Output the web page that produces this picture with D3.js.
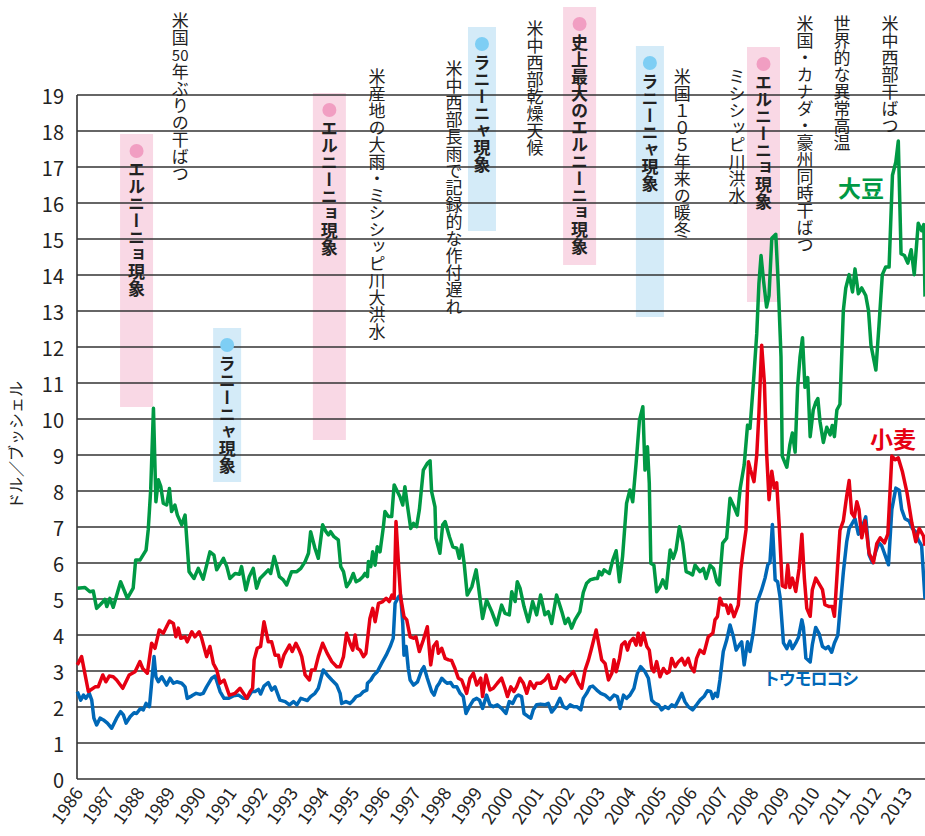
<!DOCTYPE html>
<html>
<head>
<meta charset="utf-8">
<script src="https://cdn.jsdelivr.net/npm/d3@7"></script>
<style>
body { margin: 0; background: #fff; }
text { font-family: "Noto Sans CJK JP", "Noto Sans", sans-serif; }
</style>
</head>
<body>
<script>

//Axis labels
const yearLabels = [1986, 1987, 1988, 1989, 1990, 1991, 1992, 1993, 1994, 1995, 1996, 1997, 1998, 1999,
	2000, 2001, 2002, 2003, 2004, 2005, 2006, 2007, 2008, 2009, 2010, 2011, 2012, 2013];
const priceTicks = [0, 1, 2, 3, 4, 5, 6, 7, 8, 9, 10, 11, 12, 13, 14, 15, 16, 17, 18, 19];

//Soybean (dollars per bushel)
const soyYears = [1986.01,1986.26,1986.42,1986.53,1986.64,1986.80,1986.91,1986.97,1987.07,1987.18,1987.42,1987.64,1987.83,1987.91,
	1988.05,1988.25,1988.32,1988.40,1988.49,1988.57,1988.65,1988.73,1988.81,1988.92,1989.01,1989.08,1989.19,1989.27,1989.41,1989.52,
	1989.65,1989.81,1989.95,1990.11,1990.33,1990.46,1990.55,1990.77,1990.88,1990.98,1991.15,1991.29,1991.36,1991.50,1991.61,1991.74,
	1991.85,1991.96,1992.12,1992.23,1992.31,1992.42,1992.50,1992.59,1992.72,1992.83,1992.99,1993.16,1993.29,1993.43,1993.54,1993.61,
	1993.75,1993.86,1994.00,1994.11,1994.19,1994.26,1994.37,1994.51,1994.59,1994.68,1994.78,1994.89,1995.00,1995.09,1995.20,1995.31,
	1995.38,1995.46,1995.49,1995.57,1995.63,1995.71,1995.78,1995.87,1995.98,1996.03,1996.14,1996.25,1996.33,1996.41,1996.52,1996.61,
	1996.68,1996.76,1996.87,1996.96,1997.06,1997.15,1997.28,1997.41,1997.50,1997.55,1997.66,1997.69,1997.82,1997.91,1997.99,1998.13,
	1998.24,1998.37,1998.45,1998.53,1998.61,1998.71,1998.86,1999.00,1999.07,1999.21,1999.34,1999.51,1999.67,1999.83,1999.94,2000.08,
	2000.16,2000.27,2000.34,2000.43,2000.56,2000.70,2000.84,2000.97,2001.10,2001.24,2001.35,2001.46,2001.62,2001.79,2001.90,2002.00,
	2002.11,2002.22,2002.38,2002.49,2002.60,2002.71,2002.87,2002.95,2003.01,2003.09,2003.17,2003.25,2003.34,2003.45,2003.56,2003.67,
	2003.77,2003.90,2004.01,2004.10,2004.21,2004.32,2004.43,2004.50,2004.58,2004.64,2004.69,2004.79,2004.88,2004.99,2005.08,2005.19,
	2005.32,2005.42,2005.51,2005.62,2005.73,2005.84,2005.97,2006.05,2006.13,2006.21,2006.29,2006.40,2006.49,2006.62,2006.73,2006.84,
	2006.92,2007.03,2007.16,2007.27,2007.40,2007.51,2007.60,2007.73,2007.84,2007.92,2008.03,2008.14,2008.21,2008.28,2008.36,2008.46,
	2008.54,2008.63,2008.76,2008.84,2008.93,2008.97,2009.12,2009.22,2009.30,2009.39,2009.47,2009.55,2009.63,2009.71,2009.80,2009.88,
	2009.98,2010.06,2010.13,2010.20,2010.31,2010.42,2010.53,2010.60,2010.67,2010.75,2010.85,2010.96,2011.04,2011.15,2011.26,2011.34,
	2011.45,2011.56,2011.69,2011.78,2011.86,2012.02,2012.12,2012.23,2012.34,2012.45,2012.56,2012.67,2012.75,2012.84,2012.95,2013.06,
	2013.17,2013.27,2013.40,2013.51,2013.58,2013.62];
const soyPrices = [5.30,5.32,5.20,5.22,4.74,4.88,4.99,4.79,5.02,4.77,5.48,5.02,5.30,6.08,
	6.08,6.36,6.92,8.03,10.30,7.70,8.31,8.12,7.66,7.61,8.07,7.43,7.61,7.33,7.06,7.33,
	5.76,5.57,5.85,5.55,6.31,6.22,5.81,6.13,5.90,5.57,5.71,5.69,5.90,5.25,5.62,5.85,
	5.30,5.57,5.71,5.81,5.71,6.18,5.94,5.62,5.53,5.39,5.76,5.76,5.85,6.04,6.27,6.87,
	6.41,6.13,7.06,6.87,6.78,6.87,6.73,6.64,5.90,5.76,5.34,5.48,5.71,5.48,5.53,5.62,
	5.71,5.62,6.04,5.90,6.31,5.94,6.45,6.31,7.01,7.43,7.29,7.29,8.17,8.03,7.84,7.61,
	8.12,7.61,6.96,7.10,7.01,7.47,8.58,8.77,8.84,7.98,7.56,6.69,6.27,7.06,7.15,6.73,
	6.45,6.41,6.13,6.50,5.99,5.11,5.34,5.81,5.39,4.46,4.97,4.65,4.28,4.83,4.60,4.56,
	5.20,4.93,5.48,5.30,4.79,4.37,4.93,4.56,5.11,4.56,4.65,4.32,5.11,4.65,4.32,4.46,
	4.19,4.42,4.65,5.18,5.44,5.53,5.57,5.57,5.76,5.67,5.81,5.76,5.71,6.08,6.34,5.48,
	6.18,7.66,8.03,7.70,8.77,9.97,10.34,8.58,9.23,8.21,5.99,5.94,5.20,5.34,5.53,5.30,
	6.36,6.13,6.36,7.01,6.55,5.76,5.71,5.67,5.94,5.85,5.76,5.85,5.57,5.94,5.85,5.48,
	5.39,6.55,6.69,7.80,7.56,7.33,8.07,8.72,9.83,9.74,10.99,12.37,13.75,14.54,13.85,13.11,
	13.43,15.02,15.13,13.75,11.73,8.97,8.66,9.29,9.61,9.08,10.88,11.73,12.26,10.88,11.15,9.51,
	10.25,10.46,10.57,9.93,9.35,9.77,9.56,9.82,9.51,10.25,10.41,13.01,13.64,14.01,13.53,14.17,
	13.48,13.64,13.43,13.01,12.05,11.36,12.58,14.01,14.22,14.22,16.77,17.14,17.72,14.59,14.54,14.33,
	14.70,14.01,15.44,15.23,15.40,13.40];

//Wheat (dollars per bushel)
const wheatYears = [1986.01,1986.15,1986.37,1986.59,1986.69,1986.84,1986.94,1987.05,1987.18,1987.29,1987.49,1987.70,1987.89,1988.05,
	1988.14,1988.29,1988.43,1988.54,1988.68,1988.81,1989.01,1989.14,1989.22,1989.30,1989.38,1989.52,1989.59,1989.74,1989.84,1989.98,
	1990.06,1990.22,1990.33,1990.44,1990.55,1990.66,1990.79,1990.96,1991.15,1991.31,1991.53,1991.64,1991.72,1991.77,1991.87,1991.98,
	1992.09,1992.23,1992.34,1992.45,1992.56,1992.63,1992.74,1992.92,1993.01,1993.13,1993.24,1993.32,1993.43,1993.57,1993.64,1993.75,
	1993.86,1994.00,1994.15,1994.30,1994.46,1994.57,1994.68,1994.78,1994.89,1994.98,1995.06,1995.13,1995.22,1995.33,1995.41,1995.54,
	1995.63,1995.71,1995.82,1995.96,1996.07,1996.17,1996.26,1996.33,1996.39,1996.47,1996.54,1996.65,1996.74,1996.85,1996.96,1997.04,
	1997.15,1997.28,1997.41,1997.52,1997.61,1997.72,1997.77,1997.88,1997.99,1998.10,1998.20,1998.31,1998.42,1998.53,1998.69,1998.80,
	1998.91,1999.02,1999.15,1999.21,1999.32,1999.45,1999.56,1999.69,1999.83,1999.94,2000.02,2000.13,2000.23,2000.32,2000.43,2000.54,
	2000.65,2000.76,2000.89,2000.97,2001.10,2001.24,2001.35,2001.46,2001.60,2001.73,2001.90,2002.00,2002.17,2002.33,2002.44,2002.55,
	2002.66,2002.76,2002.91,2003.01,2003.09,2003.20,2003.31,2003.42,2003.49,2003.56,2003.67,2003.74,2003.85,2003.93,2004.01,2004.12,
	2004.21,2004.28,2004.36,2004.45,2004.56,2004.64,2004.72,2004.79,2004.88,2004.99,2005.10,2005.21,2005.29,2005.37,2005.48,2005.59,
	2005.70,2005.80,2005.91,2005.99,2006.10,2006.18,2006.29,2006.42,2006.56,2006.71,2006.78,2006.86,2006.94,2007.03,2007.14,2007.22,
	2007.29,2007.40,2007.54,2007.62,2007.70,2007.79,2007.87,2007.94,2008.05,2008.14,2008.21,2008.30,2008.39,2008.46,2008.54,2008.63,
	2008.71,2008.79,2008.87,2008.97,2009.08,2009.15,2009.22,2009.30,2009.41,2009.52,2009.61,2009.69,2009.77,2009.88,2009.95,2010.06,
	2010.17,2010.28,2010.36,2010.50,2010.60,2010.67,2010.78,2010.85,2010.96,2011.07,2011.15,2011.23,2011.32,2011.40,2011.47,2011.56,
	2011.67,2011.80,2011.94,2012.05,2012.16,2012.30,2012.41,2012.54,2012.65,2012.75,2012.88,2013.03,2013.19,2013.32,2013.43,2013.57,
	2013.62];
const wheatPrices = [3.17,3.40,2.43,2.56,2.56,2.89,2.70,2.86,2.84,2.75,2.52,2.89,2.98,3.26,
	3.07,2.94,3.77,3.63,4.14,4.05,4.39,4.32,3.95,4.19,3.91,3.95,3.81,4.09,3.95,4.09,
	3.91,3.40,3.68,3.21,3.03,2.66,2.75,2.33,2.38,2.52,2.24,2.43,2.52,3.31,3.63,3.68,
	4.37,3.81,3.81,3.44,3.44,3.12,3.44,3.72,3.54,3.77,3.58,3.40,2.89,2.75,3.03,3.03,
	3.40,3.77,3.49,3.26,3.12,3.12,3.40,4.05,3.77,3.58,4.00,3.63,3.58,3.40,3.49,4.46,
	4.74,4.37,4.88,4.93,5.02,4.93,5.11,5.02,7.15,5.99,5.06,4.51,4.42,3.95,3.91,3.95,
	3.54,3.86,4.23,3.17,3.68,3.81,3.49,3.63,3.35,3.31,3.29,3.07,2.80,2.75,2.38,2.80,
	2.94,2.61,2.80,2.29,2.89,2.47,2.52,2.66,2.80,2.52,2.29,2.56,2.43,2.56,2.80,2.66,
	2.38,2.70,2.52,2.66,2.66,2.75,2.89,2.52,2.52,2.84,2.70,2.84,2.98,2.66,2.52,3.03,
	3.31,3.63,4.14,3.68,3.31,3.21,2.75,2.94,3.31,2.98,3.35,3.72,3.81,3.58,3.81,3.91,
	3.72,4.05,3.72,4.05,3.68,3.58,3.07,2.98,3.26,2.84,3.07,2.94,2.98,3.35,3.12,3.26,
	3.35,3.17,3.35,3.12,2.98,3.35,3.58,3.49,3.95,4.05,4.42,4.51,5.02,4.83,4.83,4.60,
	4.83,4.51,4.83,5.81,6.36,6.92,8.81,8.58,8.26,9.00,10.14,12.05,10.99,9.08,7.76,8.55,
	8.08,8.23,7.07,5.37,5.32,5.95,5.32,5.58,5.21,5.85,6.80,5.58,4.74,4.52,5.26,5.58,
	5.42,5.26,4.84,4.79,4.79,4.52,6.01,6.91,7.17,7.86,8.29,7.39,7.28,7.70,7.49,6.70,
	7.17,6.27,6.01,6.54,6.70,6.56,6.80,8.97,8.87,8.92,8.55,7.97,7.12,6.59,6.96,6.75,
	6.48];

//Corn (dollars per bushel)
const cornYears = [1986.01,1986.12,1986.21,1986.29,1986.40,1986.48,1986.55,1986.64,1986.75,1986.86,1986.99,1987.13,1987.29,1987.42,
	1987.51,1987.60,1987.73,1987.86,1987.94,1988.07,1988.16,1988.25,1988.36,1988.43,1988.51,1988.57,1988.65,1988.76,1988.92,1989.03,
	1989.14,1989.25,1989.41,1989.52,1989.59,1989.74,1989.88,1990.01,1990.11,1990.22,1990.39,1990.50,1990.66,1990.79,1990.93,1991.09,
	1991.26,1991.42,1991.55,1991.69,1991.80,1991.91,1991.98,1992.09,1992.23,1992.34,1992.45,1992.61,1992.78,1992.92,1993.05,1993.16,
	1993.29,1993.39,1993.50,1993.61,1993.75,1993.86,1994.02,1994.15,1994.30,1994.46,1994.57,1994.62,1994.76,1994.89,1995.00,1995.09,
	1995.22,1995.33,1995.44,1995.46,1995.57,1995.67,1995.78,1995.92,1996.07,1996.20,1996.30,1996.36,1996.47,1996.54,1996.61,1996.65,
	1996.72,1996.79,1996.85,1996.96,1997.09,1997.23,1997.30,1997.41,1997.55,1997.63,1997.72,1997.80,1997.88,1997.99,1998.06,1998.17,
	1998.26,1998.37,1998.48,1998.58,1998.67,1998.78,1998.91,1999.02,1999.11,1999.21,1999.34,1999.45,1999.56,1999.69,1999.83,1999.97,
	2000.08,2000.19,2000.30,2000.38,2000.48,2000.56,2000.70,2000.78,2000.86,2000.97,2001.10,2001.24,2001.35,2001.46,2001.60,2001.73,
	2001.84,2001.95,2002.06,2002.17,2002.28,2002.41,2002.49,2002.60,2002.71,2002.80,2002.93,2003.06,2003.20,2003.36,2003.49,2003.60,
	2003.69,2003.80,2003.90,2004.01,2004.14,2004.25,2004.36,2004.50,2004.61,2004.72,2004.83,2004.94,2005.04,2005.15,2005.26,2005.37,
	2005.48,2005.59,2005.70,2005.80,2005.91,2006.05,2006.18,2006.29,2006.42,2006.53,2006.64,2006.71,2006.79,2006.86,2006.94,2007.05,
	2007.16,2007.27,2007.38,2007.47,2007.57,2007.65,2007.73,2007.84,2007.92,2008.03,2008.14,2008.30,2008.41,2008.50,2008.57,2008.65,
	2008.74,2008.82,2008.90,2009.01,2009.12,2009.22,2009.30,2009.41,2009.50,2009.61,2009.66,2009.74,2009.88,2009.95,2010.06,2010.17,
	2010.28,2010.39,2010.47,2010.58,2010.67,2010.78,2010.85,2010.96,2011.07,2011.15,2011.23,2011.34,2011.45,2011.58,2011.69,2011.80,
	2011.91,2012.02,2012.12,2012.21,2012.32,2012.43,2012.54,2012.67,2012.78,2012.86,2012.97,2013.10,2013.21,2013.32,2013.40,2013.51,
	2013.62];
const cornPrices = [2.43,2.19,2.33,2.24,2.38,2.19,1.69,1.50,1.69,1.64,1.55,1.41,1.69,1.87,
	1.78,1.55,1.73,1.84,1.82,1.96,1.92,2.10,2.01,2.66,3.40,2.84,2.70,2.84,2.61,2.80,
	2.66,2.70,2.66,2.56,2.24,2.31,2.38,2.35,2.38,2.56,2.80,2.86,2.43,2.24,2.24,2.31,
	2.33,2.24,2.24,2.43,2.43,2.49,2.36,2.58,2.68,2.47,2.56,2.19,2.15,2.06,2.15,2.06,
	2.24,2.21,2.18,2.29,2.38,2.52,3.03,2.89,2.75,2.61,2.38,2.10,2.15,2.10,2.19,2.29,
	2.33,2.43,2.47,2.66,2.75,2.89,2.98,3.21,3.44,3.68,3.91,4.88,5.06,5.11,4.32,3.44,
	3.68,3.07,2.75,2.61,2.70,3.03,3.12,2.80,2.43,2.33,2.56,2.66,2.80,2.70,2.66,2.68,
	2.56,2.56,2.38,2.29,1.82,2.01,2.19,2.24,2.19,1.96,2.33,2.06,2.01,2.06,1.96,1.82,
	2.15,2.10,2.29,2.33,2.29,1.82,1.73,1.69,1.92,2.06,2.08,2.06,2.10,1.86,2.01,2.24,
	2.01,1.96,2.06,2.01,2.01,1.92,2.24,2.38,2.56,2.58,2.47,2.38,2.33,2.21,2.33,2.29,
	1.96,2.33,2.24,2.33,2.52,2.94,3.12,2.98,2.80,2.19,2.10,2.06,1.92,2.01,1.96,2.06,
	2.01,2.19,2.38,2.15,2.01,1.92,2.06,2.19,2.29,2.45,2.43,2.24,2.38,2.29,2.75,3.54,
	3.86,4.28,3.95,3.58,3.72,3.81,3.17,3.81,3.54,4.09,4.88,5.26,5.58,5.95,6.01,7.07,
	5.53,5.48,5.05,3.78,3.62,3.83,3.62,3.78,3.94,4.42,4.21,3.36,3.25,3.73,4.21,4.04,
	3.68,3.62,3.68,3.52,3.78,3.99,4.68,5.74,6.59,6.96,7.07,7.23,6.80,7.01,7.28,6.22,
	6.01,6.33,6.56,6.48,6.22,5.95,7.49,8.08,8.02,7.49,7.23,7.17,6.96,6.86,6.64,6.48,
	5.00];

//Event notes: year anchor, text, box type
const notes = [
	{ year: 1987.94, text: "エルニーニョ現象", box: "elnino", top: 134, bottom: 407 },
	{ year: 1989.36, text: ["米国", "50", "年ぶりの干ばつ"], top: 12 },
	{ year: 1990.89, text: "ラニーニャ現象", box: "lanina", top: 328, bottom: 482 },
	{ year: 1994.22, text: "エルニーニョ現象", box: "elnino", top: 93, bottom: 440 },
	{ year: 1995.77, text: "米産地の大雨・ミシシッピ川大洪水", top: 68 },
	{ year: 1998.28, text: "米中西部長雨で記録的な作付遅れ", top: 60 },
	{ year: 1999.19, text: "ラニーニャ現象", box: "lanina", top: 27, bottom: 231 },
	{ year: 2000.92, text: "米中西部乾燥天候", top: 20 },
	{ year: 2002.37, text: "史上最大のエルニーニョ現象", box: "elnino", top: 7, bottom: 265 },
	{ year: 2004.66, text: "ラニーニャ現象", box: "lanina", top: 46, bottom: 317 },
	{ year: 2005.71, text: "米国１０５年来の暖冬", top: 68 },
	{ year: 2007.50, text: "ミシシッピ川洪水", top: 68 },
	{ year: 2008.36, text: "エルニーニョ現象", box: "elnino", top: 47, bottom: 302 },
	{ year: 2009.71, text: "米国・カナダ・豪州同時干ばつ", top: 15 },
	{ year: 2010.92, text: "世界的な異常高温", top: 15 },
	{ year: 2012.48, text: "米中西部干ばつ", top: 15 }
];

window.onload = drawChart();

function drawChart(){

	let width = 925;
	let height = 836;

	let svg = d3.select("body")
		.append("svg")
		.attr("width", width)
		.attr("height", height);

	//Plot area 77..925 by 95..779
	let x = d3.scaleLinear()
		.domain([1986, 2013.62])
		.range([77, 925]);

	let y = d3.scaleLinear()
		.domain([0, 19])
		.range([779, 95]);

	//Event boxes go behind everything
	let boxColor = { elnino: "#f9d8e5", lanina: "#d4ebf8" };
	let dotColor = { elnino: "#f19ec2", lanina: "#7ecef4" };

	notes.filter(function(d){ return d.box; }).forEach(function(d){
		let w = d.box == "elnino" ? 33 : 28;
		svg.append("rect")
			.attr("x", x(d.year) - w / 2)
			.attr("y", d.top)
			.attr("width", w)
			.attr("height", d.bottom - d.top)
			.attr("fill", boxColor[d.box]);
	});

	//Horizontal grid lines
	svg.selectAll(".grid")
		.data(priceTicks.slice(1))
		.enter()
		.append("line")
		.attr("class", "grid")
		.attr("x1", 77)
		.attr("x2", 925)
		.attr("y1", function(d){ return y(d); })
		.attr("y2", function(d){ return y(d); })
		.attr("stroke", "#333")
		.attr("stroke-width", 1.3);

	//Axis lines
	svg.append("line")
		.attr("x1", 77).attr("x2", 925)
		.attr("y1", y(0)).attr("y2", y(0))
		.attr("stroke", "#333").attr("stroke-width", 1.6);
	svg.append("line")
		.attr("x1", 77).attr("x2", 77)
		.attr("y1", y(0)).attr("y2", y(19))
		.attr("stroke", "#333").attr("stroke-width", 1.6);

	//Y tick labels
	svg.selectAll(".ylab")
		.data(priceTicks)
		.enter()
		.append("text")
		.attr("class", "ylab")
		.attr("x", 64)
		.attr("y", function(d){ return y(d); })
		.attr("text-anchor", "end")
		.attr("dominant-baseline", "central")
		.attr("font-size", 20)
		.attr("fill", "#222")
		.text(function(d){ return d; });

	//Year labels, slanted
	svg.selectAll(".xlab")
		.data(yearLabels)
		.enter()
		.append("text")
		.attr("class", "xlab")
		.attr("transform", function(d){ return "translate(" + (x(d) + 7) + ",793) rotate(-55)"; })
		.attr("text-anchor", "end")
		.attr("font-size", 18)
		.attr("fill", "#222")
		.text(function(d){ return d; });

	//Y axis title
	svg.append("text")
		.attr("transform", "translate(15,445) rotate(-90)")
		.attr("text-anchor", "middle")
		.attr("dominant-baseline", "central")
		.attr("font-size", 16)
		.attr("fill", "#222")
		.text("ドル／ブッシェル");

	//Price lines
	let line = d3.line()
		.x(function(d){ return x(d[0]); })
		.y(function(d){ return y(d[1]); });

	let series = [
		{ years: cornYears, prices: cornPrices, color: "#0068b7" },
		{ years: wheatYears, prices: wheatPrices, color: "#e60012" },
		{ years: soyYears, prices: soyPrices, color: "#009944" }
	];

	series.forEach(function(s){
		svg.append("path")
			.datum(d3.zip(s.years, s.prices))
			.attr("fill", "none")
			.attr("stroke", s.color)
			.attr("stroke-width", 3.5)
			.attr("stroke-linejoin", "round")
			.attr("d", line);
	});

	//Series names
	svg.append("text")
		.attr("x", 838).attr("y", 187)
		.attr("dominant-baseline", "central")
		.attr("font-size", 23).attr("font-weight", "bold")
		.attr("fill", "#009944")
		.text("大豆");
	svg.append("text")
		.attr("x", 870).attr("y", 438)
		.attr("dominant-baseline", "central")
		.attr("font-size", 23).attr("font-weight", "bold")
		.attr("fill", "#e60012")
		.text("小麦");
	svg.append("text")
		.attr("x", 763).attr("y", 677)
		.attr("dominant-baseline", "central")
		.attr("font-size", 17).attr("font-weight", "bold")
		.attr("textLength", 96)
		.attr("fill", "#0068b7")
		.text("トウモロコシ");

	//Event notes in vertical writing
	let fs = 17;
	notes.forEach(function(d){
		let cx = x(d.year);
		let ty = d.top;
		let bold = false;
		if (d.box) {
			svg.append("circle")
				.attr("cx", cx)
				.attr("cy", d.top + 17)
				.attr("r", 7)
				.attr("fill", dotColor[d.box]);
			ty = d.top + 27;
			bold = true;
		}
		let parts = Array.isArray(d.text) ? d.text : [d.text];
		parts.forEach(function(p, i){
			if (i % 2 == 1) {
				//short number set upright across the column
				svg.append("text")
					.attr("x", cx)
					.attr("y", ty + fs / 2)
					.attr("text-anchor", "middle")
					.attr("dominant-baseline", "central")
					.attr("font-size", 15)
					.attr("fill", "#222")
					.text(p);
				ty += fs;
			} else {
				svg.append("text")
					.attr("x", cx)
					.attr("y", ty)
					.style("writing-mode", "vertical-rl")
					.attr("font-size", fs)
					.attr("font-weight", bold ? "bold" : "normal")
					.attr("fill", "#222")
					.text(p);
				ty += fs * p.length;
			}
		});
	});
};
</script>
</body>
</html>
